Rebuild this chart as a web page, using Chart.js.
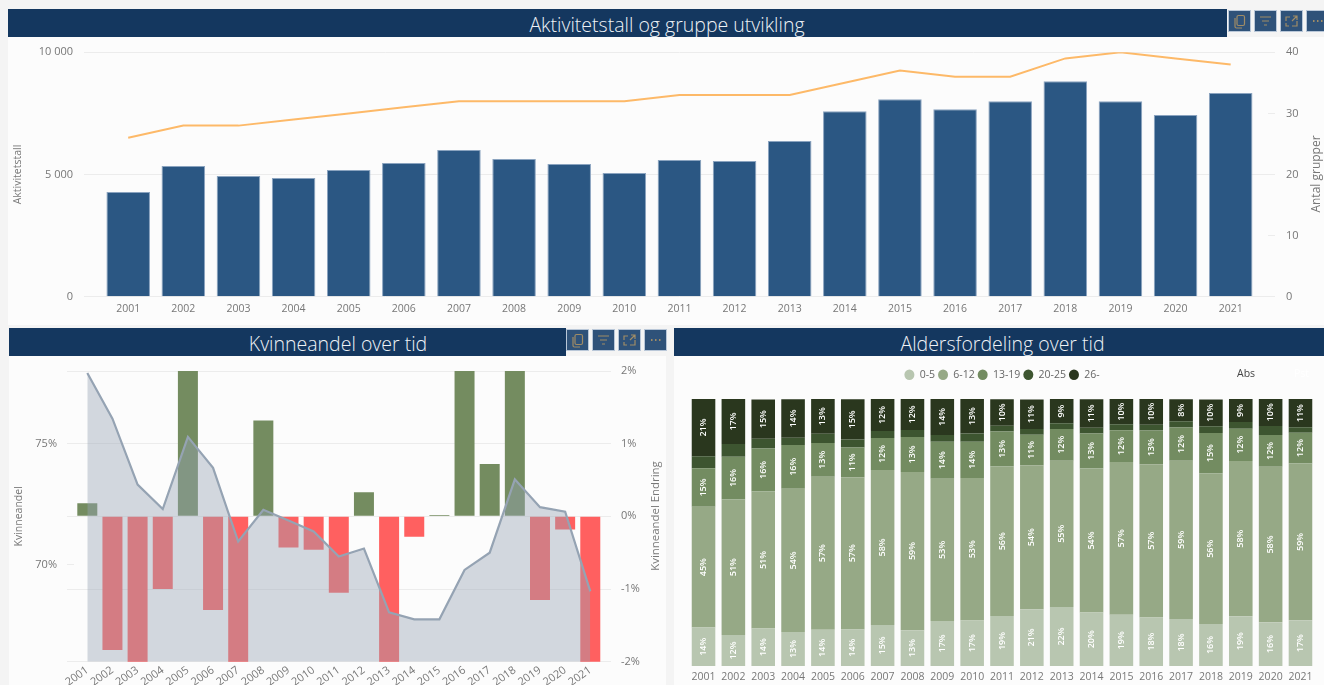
<!DOCTYPE html>
<html lang="no">
<head>
<meta charset="utf-8">
<title>Aktivitetstall</title>
<script src="https://cdn.jsdelivr.net/npm/chart.js@4"></script>
<style>
  html, body { margin: 0; padding: 0; width: 1324px; height: 685px; overflow: hidden; background: #f4f4f4; }
  body { position: relative; font-family: "Open Sans", sans-serif; }
  .panel, canvas, .bar, .btn, .note { position: absolute; }
  .panel { background: #fcfcfc; }
  .bar { background: #14375f; color: #eef2f6; font-size: 19.5px; font-weight: 300; height: 28px; line-height: 32px; text-align: center; box-sizing: border-box; overflow: hidden; }
  .btn { width: 21px; height: 20px; background: #2f5279; border: 1px solid #b9c7d8; }
  .btn svg { display: block; width: 21px; height: 20px; fill: none; stroke: #a08c66; stroke-width: 1.2; }
  .note { font-size: 12px; color: #777; white-space: nowrap; }
  .side { transform: translate(-50%, -50%) rotate(-90deg); }
</style>
</head>
<body>
<div class="panel" style="left:8px;top:37px;width:1316px;height:288px"></div>
<div class="panel" style="left:9px;top:356px;width:657px;height:329px"></div>
<div class="panel" style="left:674px;top:356px;width:650px;height:329px"></div>

<div class="bar" style="left:8px;top:9px;width:1219px;padding-left:99px">Aktivitetstall og gruppe utvikling</div>
<div class="bar" style="left:9px;top:328px;width:557px;padding-left:101px">Kvinneandel over tid</div>
<div class="bar" style="left:674px;top:328px;width:650px;padding-left:7px">Aldersfordeling over tid</div>

<canvas id="aktivitetChart" width="1316" height="284" style="left:8px;top:38px"></canvas>
<canvas id="kvinneChart" width="657" height="328" style="left:9px;top:357px"></canvas>
<canvas id="alderChart" width="650" height="328" style="left:674px;top:357px"></canvas>

<div class="note side" style="left:1315px;top:174px">Antal grupper</div>
<div class="note side" style="left:654px;top:516px;font-size:11.4px">Kvinneandel Endring</div>
<div class="note" style="left:1237px;top:366px;color:#444;font-size:10.5px">Abs</div>
<div class="note" style="left:1294px;top:366px;color:#fff;font-size:10.5px">Pst</div>

<script>
const years = [2001, 2002, 2003, 2004, 2005, 2006, 2007, 2008, 2009, 2010, 2011, 2012, 2013, 2014, 2015, 2016, 2017, 2018, 2019, 2020, 2021];

const aktivitetstall = [4285, 5350, 4940, 4860, 5180, 5470, 6000, 5630, 5430, 5060, 5590, 5550, 6370, 7590, 8080, 7670, 8000, 8820, 8000, 7430, 8330];
const antalGrupper = [26, 28, 28, 29, 30, 31, 32, 32, 32, 32, 33, 33, 33, 35, 37, 36, 36, 39, 40, 39, 38];

const kvinneandel = [77.92, 76.03, 73.31, 72.3, 75.28, 74.0, 70.96, 72.27, 71.83, 71.38, 70.34, 70.67, 68.04, 67.75, 67.75, 69.79, 70.5, 73.53, 72.38, 72.19, 68.9];
const kvinneEndring = [0.18, -1.84, -2.3, -1.0, 2.6, -1.29, -2.4, 1.32, -0.43, -0.46, -1.05, 0.33, -2.2, -0.28, 0.02, 2.3, 0.72, 2.2, -1.15, -0.18, -2.1];
const kvinneTicks = [66, 69, 70, 72, 75, 78];
const kvinneLabels = [70, 75];

const alder0 = [14.4, 11.6, 14, 12.7, 13.6, 13.7, 15.4, 13.4, 16.9, 17, 18.7, 21.3, 22.1, 20, 19.2, 18.2, 17.6, 15.7, 18.6, 16.4, 17.1];
const alder6 = [45.2, 50.8, 51.4, 53.7, 57.3, 57, 58, 59.3, 53.2, 53.4, 56, 53.9, 54.8, 54, 57.2, 57.4, 59.3, 56.4, 58.2, 58.2, 58.7];
const alder13 = [14.5, 16, 16.1, 16.4, 12.6, 11.1, 12, 13.1, 13.9, 13.6, 13.1, 11.4, 11.9, 13.1, 11.9, 12.6, 12.4, 15.2, 12.1, 11.9, 11.6];
const alder20 = [4.5, 4.7, 3.6, 2.7, 3.5, 3, 2.6, 2.6, 2.5, 3.1, 2.2, 2.2, 2.1, 2.1, 2.2, 2.2, 2.4, 2.5, 2.5, 3.4, 2];
const alder26 = [21.4, 16.9, 14.7, 14.4, 13, 15.1, 12, 11.6, 13.6, 12.9, 9.9, 11, 9.1, 10.7, 9.5, 9.6, 8.2, 10, 8.6, 10.2, 10.6];

const fontName = '"Open Sans", sans-serif';
const tickColor = "#777";
const gridColor = "#ececec";
Chart.defaults.font.family = fontName;
Chart.defaults.font.size = 10.5;
Chart.defaults.animation = false;

// keep the plot edges where they are, tick labels may stick out
const noPad = (s) => {
  s.paddingTop = 0;
  s.paddingBottom = 0;
};

// top chart
new Chart(document.getElementById("aktivitetChart"), {
  type: "bar",
  data: {
    datasets: [
      {
        type: "line",
        label: "Antal grupper",
        data: years.map((y, i) => ({ x: y, y: antalGrupper[i] })),
        yAxisID: "y1",
        borderColor: "#fdb968",
        borderWidth: 2,
        pointRadius: 0,
        order: 0,
      },
      {
        label: "Aktivitetstall",
        data: years.map((y, i) => ({ x: y, y: aktivitetstall[i] })),
        backgroundColor: "#2b5783",
        borderColor: "#8aa3bf",
        borderWidth: 1,
        barPercentage: 0.79,
        categoryPercentage: 1,
        order: 1,
      },
    ],
  },
  options: {
    responsive: false,
    layout: { padding: { top: 14.3 } },
    plugins: { legend: { display: false }, tooltip: { enabled: false } },
    scales: {
      x: {
        type: "linear",
        offset: false,
        min: 2000.325,
        max: 2021.677,
        afterFit: (s) => { s.height = 25.3; },
        border: { display: false },
        grid: { display: false, offset: false, drawTicks: false },
        ticks: {
          stepSize: 1,
          includeBounds: false,
          autoSkip: false,
          maxRotation: 0,
          padding: 6,
          color: tickColor,
          callback: (v) => String(v),
        },
      },
      y: {
        min: 0,
        max: 10000,
        afterFit: (s) => { s.width = 83; noPad(s); },
        border: { display: false },
        grid: { color: gridColor, tickLength: 7, tickColor: gridColor },
        title: { display: true, text: "Aktivitetstall", color: tickColor, font: { size: 10.5 }, padding: { top: 4, bottom: 0 } },
        ticks: {
          stepSize: 5000,
          padding: 11,
          color: tickColor,
          font: { size: 11 },
          callback: (v) => String(v).replace(/\B(?=(\d{3})+$)/, " "),
        },
      },
      y1: {
        position: "right",
        min: 0,
        max: 40,
        afterFit: (s) => { s.width = 56; noPad(s); },
        border: { display: false },
        grid: { drawOnChartArea: false, tickLength: 7, tickColor: gridColor },
        ticks: { stepSize: 10, padding: 11, color: tickColor, font: { size: 11 } },
      },
    },
  },
});

// bottom left chart
new Chart(document.getElementById("kvinneChart"), {
  type: "bar",
  data: {
    datasets: [
      {
        type: "line",
        label: "Kvinneandel",
        data: years.map((y, i) => ({ x: y, y: kvinneandel[i] })),
        yAxisID: "y",
        borderColor: "#95a3b3",
        borderWidth: 2.2,
        backgroundColor: "rgba(152, 164, 180, 0.415)",
        fill: "origin",
        pointRadius: 0,
        order: 0,
      },
      {
        label: "Kvinneandel Endring",
        data: years.map((y, i) => ({ x: y, y: kvinneEndring[i] })),
        yAxisID: "y1",
        backgroundColor: (c) => (c.raw && c.raw.y < 0 ? "#ff6060" : "#748c60"),
        barPercentage: 0.795,
        categoryPercentage: 1,
        order: 1,
      },
    ],
  },
  options: {
    responsive: false,
    layout: { padding: { top: 14 } },
    plugins: { legend: { display: false }, tooltip: { enabled: false } },
    scales: {
      x: {
        type: "linear",
        offset: false,
        min: 2000.471,
        max: 2021.545,
        afterFit: (s) => { s.height = 23.3; },
        border: { display: false },
        grid: { display: false, offset: false, drawTicks: false },
        ticks: {
          stepSize: 1,
          includeBounds: false,
          autoSkip: false,
          minRotation: 35,
          maxRotation: 35,
          padding: 2,
          color: tickColor,
          font: { size: 11 },
          callback: (v) => String(v),
        },
      },
      y: {
        min: 66,
        max: 78,
        afterFit: (s) => { s.width = 65; noPad(s); },
        afterBuildTicks: (s) => { s.ticks = kvinneTicks.map((value) => ({ value })); },
        border: { display: false },
        grid: { drawOnChartArea: false, tickLength: 7, tickColor: gridColor },
        title: { display: true, text: "Kvinneandel", color: tickColor, font: { size: 10.5 }, padding: { top: 4, bottom: 0 } },
        ticks: {
          padding: 10,
          color: tickColor,
          font: { size: 11 },
          callback: (v) => (kvinneLabels.includes(v) ? v + "%" : ""),
        },
      },
      y1: {
        position: "right",
        min: -2,
        max: 2,
        afterFit: (s) => { s.width = 62; noPad(s); },
        border: { display: false },
        grid: { color: gridColor, tickLength: 7, tickColor: gridColor },
        ticks: { stepSize: 1, padding: 10, color: tickColor, font: { size: 11 }, callback: (v) => v + "%" },
      },
    },
  },
});

// percentages inside the stacked bars, the 20-25 group has none
const barLabels = {
  id: "barLabels",
  afterDatasetsDraw(chart) {
    const { ctx } = chart;
    ctx.save();
    ctx.fillStyle = "#fff";
    ctx.font = '600 9px ' + fontName;
    ctx.textAlign = "center";
    ctx.textBaseline = "middle";
    chart.data.datasets.forEach((ds, d) => {
      if (ds.label === "20-25") return;
      chart.getDatasetMeta(d).data.forEach((bar, i) => {
        const { x, y, base } = bar.getProps(["x", "y", "base"], true);
        ctx.save();
        ctx.translate(x, (y + base) / 2);
        ctx.rotate(-Math.PI / 2);
        ctx.fillText(Math.round(ds.data[i]) + "%", 0, 0);
        ctx.restore();
      });
    });
    ctx.restore();
  },
};

const legendGap = {
  id: "legendGap",
  beforeInit(chart) {
    const fit = chart.legend.fit;
    chart.legend.fit = function () {
      fit.call(this);
      this.height += 9;
    };
  },
};

const alderSeries = [
  ["0-5", alder0, "#b8c6b0"],
  ["6-12", alder6, "#96a986"],
  ["13-19", alder13, "#738c61"],
  ["20-25", alder20, "#3d5530"],
  ["26-", alder26, "#2a371e"],
];

// bottom right chart
new Chart(document.getElementById("alderChart"), {
  type: "bar",
  data: {
    labels: years,
    datasets: alderSeries.map(([label, data, color]) => ({
      label,
      data,
      backgroundColor: color,
      barPercentage: 0.79,
      categoryPercentage: 1,
    })),
  },
  options: {
    responsive: false,
    layout: { padding: { top: 9.5, left: 14.6, right: 8.6 } },
    plugins: {
      tooltip: { enabled: false },
      legend: {
        position: "top",
        labels: {
          usePointStyle: true,
          pointStyle: "circle",
          boxHeight: 7.5,
          pointStyleWidth: 10,
          padding: 3,
          color: "#666",
          font: { size: 10.5 },
        },
      },
    },
    scales: {
      x: {
        stacked: true,
        afterFit: (s) => { s.height = 19; },
        border: { display: false },
        grid: { display: false, drawTicks: false },
        ticks: { autoSkip: false, maxRotation: 0, padding: 5, color: tickColor },
      },
      y: { stacked: true, display: false, min: 0, max: 100 },
    },
  },
  plugins: [barLabels, legendGap],
});

// header buttons
const icons = [
  '<rect x="8" y="4.5" width="7.5" height="10" rx="1.5"/><path d="M6 7v8.5a1.5 1.5 0 0 0 1.5 1.5H13"/>',
  '<path d="M5 6h11M7 10h7M9 14h3"/>',
  '<path d="M5 10V6h4M16 10v5h-5M11 10l5-5M12 5h4v4M5 12v3h3"/>',
  '<path d="M6 10h1.5M10 10h1.5M14 10h1.5" stroke-width="1.8"/>',
];
[[1228, 10, [0, 25.5, 51.5, 78]], [566, 329, [0, 25.7, 51.7, 78]]].forEach(([left, top, offsets]) => {
  offsets.forEach((o, i) => {
    const b = document.createElement("div");
    b.className = "btn";
    b.style.left = left + o + "px";
    b.style.top = top + "px";
    b.innerHTML = '<svg viewBox="0 0 21 20">' + icons[i] + "</svg>";
    document.body.appendChild(b);
  });
});
</script>
</body>
</html>
